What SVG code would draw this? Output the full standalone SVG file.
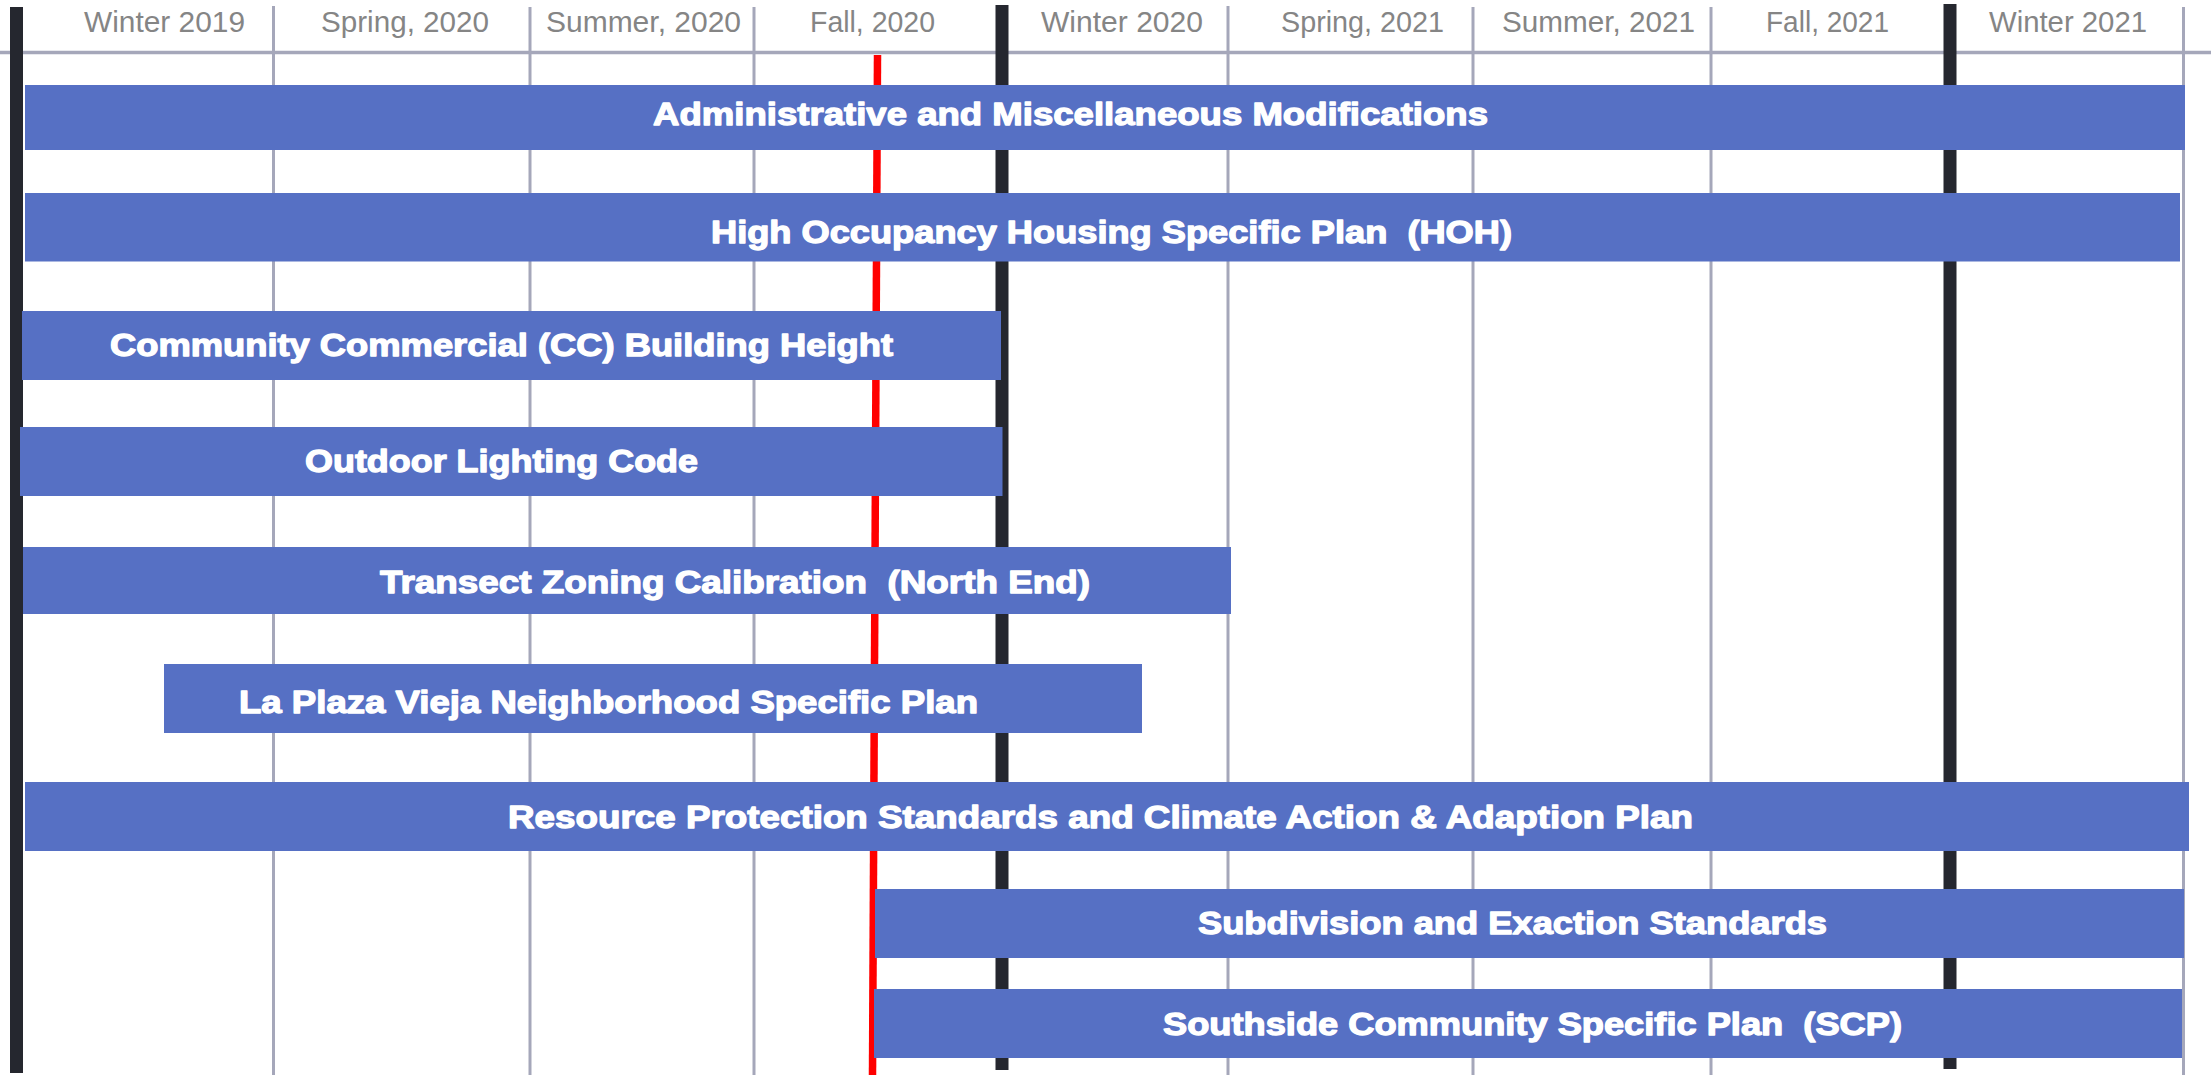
<svg xmlns="http://www.w3.org/2000/svg" width="2211" height="1075" viewBox="0 0 2211 1075">
<style>
.bg{fill:#ffffff}
.grid{stroke:#a5a7ba;stroke-width:3;fill:none}
.axis{stroke:#a5a7ba;stroke-width:3.5;fill:none}
.major{stroke:#25272f;stroke-width:13;fill:none}
.today{stroke:#ff0000;stroke-width:7.5;fill:none}
.hdr{font-family:"Liberation Sans",Arial,sans-serif;font-size:29px;fill:#858585}
.bar{fill:#5670c4}
.lbl{font-family:"Liberation Sans",Arial,sans-serif;font-size:32px;font-weight:bold;fill:#ffffff;stroke:#ffffff;stroke-width:1.3;stroke-linejoin:round}
</style>
<rect class="bg" x="0" y="0" width="2211" height="1075"/>
<g id="grid">
<line class="grid" x1="273.5" y1="6" x2="273.5" y2="1075"/>
<line class="grid" x1="530" y1="7" x2="530" y2="1075"/>
<line class="grid" x1="754" y1="7" x2="754" y2="1075"/>
<line class="grid" x1="1228" y1="6" x2="1228" y2="1075"/>
<line class="grid" x1="1473" y1="7" x2="1473" y2="1075"/>
<line class="grid" x1="1711" y1="7" x2="1711" y2="1075"/>
<line class="grid" x1="2183.5" y1="7" x2="2183.5" y2="1075"/>
<line class="axis" x1="0" y1="52.5" x2="2211" y2="52.5"/>
<line class="major" x1="16.5" y1="7" x2="16.5" y2="1073"/>
<line class="major" x1="1002" y1="5" x2="1002" y2="1070"/>
<line class="major" x1="1950" y1="4" x2="1950" y2="1069"/>
<line class="today" x1="877.5" y1="55" x2="872.5" y2="1075"/>
</g>
<g id="headers">
<text class="hdr" x="84" y="32" textLength="161" lengthAdjust="spacingAndGlyphs">Winter 2019</text>
<text class="hdr" x="321" y="32" textLength="168" lengthAdjust="spacingAndGlyphs">Spring, 2020</text>
<text class="hdr" x="546" y="32" textLength="195" lengthAdjust="spacingAndGlyphs">Summer, 2020</text>
<text class="hdr" x="810" y="32" textLength="125" lengthAdjust="spacingAndGlyphs">Fall, 2020</text>
<text class="hdr" x="1041" y="32" textLength="162" lengthAdjust="spacingAndGlyphs">Winter 2020</text>
<text class="hdr" x="1281" y="32" textLength="163" lengthAdjust="spacingAndGlyphs">Spring, 2021</text>
<text class="hdr" x="1502" y="32" textLength="193" lengthAdjust="spacingAndGlyphs">Summer, 2021</text>
<text class="hdr" x="1766" y="32" textLength="123" lengthAdjust="spacingAndGlyphs">Fall, 2021</text>
<text class="hdr" x="1989" y="32" textLength="158" lengthAdjust="spacingAndGlyphs">Winter 2021</text>
</g>
<g id="bar-admin">
<rect class="bar" x="25" y="85" width="2160" height="65"/>
<text class="lbl" x="653" y="125" textLength="835" lengthAdjust="spacingAndGlyphs">Administrative and Miscellaneous Modifications</text>
</g>
<g id="bar-hoh">
<rect class="bar" x="25" y="193" width="2155" height="68.5"/>
<text class="lbl" x="711" y="243" textLength="801" lengthAdjust="spacingAndGlyphs" xml:space="preserve">High Occupancy Housing Specific Plan  (HOH)</text>
</g>
<g id="bar-cc">
<rect class="bar" x="22" y="311" width="979" height="69"/>
<text class="lbl" x="110" y="356" textLength="783" lengthAdjust="spacingAndGlyphs">Community Commercial (CC) Building Height</text>
</g>
<g id="bar-lighting">
<rect class="bar" x="20" y="427" width="982.5" height="69"/>
<text class="lbl" x="305" y="472" textLength="393" lengthAdjust="spacingAndGlyphs">Outdoor Lighting Code</text>
</g>
<g id="bar-transect">
<rect class="bar" x="23" y="547" width="1208" height="67"/>
<text class="lbl" x="380" y="593" textLength="710" lengthAdjust="spacingAndGlyphs" xml:space="preserve">Transect Zoning Calibration  (North End)</text>
</g>
<g id="bar-plaza">
<rect class="bar" x="164" y="664" width="978" height="69"/>
<text class="lbl" x="239" y="713" textLength="739" lengthAdjust="spacingAndGlyphs">La Plaza Vieja Neighborhood Specific Plan</text>
</g>
<g id="bar-resource">
<rect class="bar" x="25" y="782" width="2164" height="69"/>
<text class="lbl" x="508" y="828" textLength="1185" lengthAdjust="spacingAndGlyphs">Resource Protection Standards and Climate Action &amp; Adaption Plan</text>
</g>
<g id="bar-subdivision">
<rect class="bar" x="875" y="889" width="1309" height="69"/>
<text class="lbl" x="1198" y="934" textLength="629" lengthAdjust="spacingAndGlyphs">Subdivision and Exaction Standards</text>
</g>
<g id="bar-southside">
<rect class="bar" x="874" y="989" width="1308" height="69"/>
<text class="lbl" x="1163" y="1035" textLength="739" lengthAdjust="spacingAndGlyphs" xml:space="preserve">Southside Community Specific Plan  (SCP)</text>
</g>
</svg>
